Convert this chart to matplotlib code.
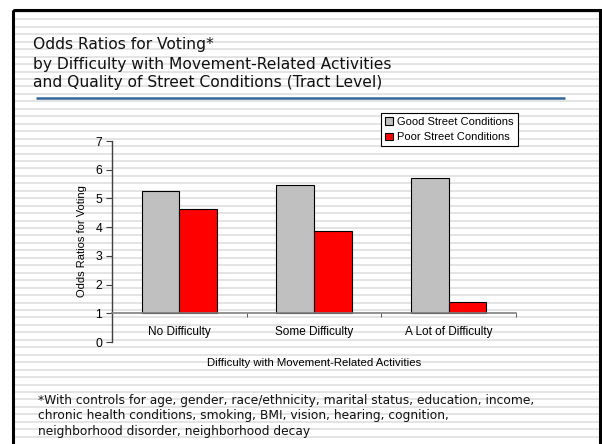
import matplotlib.pyplot as plt
import numpy as np
from matplotlib.patches import Rectangle

# data
categories = ['No Difficulty', 'Some Difficulty', 'A Lot of Difficulty']
good_street = [5.25, 5.48, 5.72]
poor_street = [4.63, 3.88, 1.38]
series_names = ['Good Street Conditions', 'Poor Street Conditions']

title_lines = ['Odds Ratios for Voting*',
               'by Difficulty with Movement-Related Activities',
               'and Quality of Street Conditions (Tract Level)']
footnote_lines = ['*With controls for age, gender, race/ethnicity, marital status, education, income,',
                  'chronic health conditions, smoking, BMI, vision, hearing, cognition,',
                  'neighborhood disorder, neighborhood decay']

W, H = 602, 444
fig = plt.figure(figsize=(W / 100, H / 100), dpi=100)
fig.patch.set_facecolor('white')

# slide background in pixel coordinates
bg = fig.add_axes([0, 0, 1, 1], zorder=-1)
bg.set_xlim(0, W)
bg.set_ylim(H, 0)
bg.axis('off')
for yy in np.arange(12, H, 7.45):
    bg.hlines(yy, 13, 599, color='#e2e2e2', lw=1.3, zorder=1)
bg.add_patch(Rectangle((13, 10), 587, 460, facecolor='none', edgecolor='black', lw=2.2, zorder=5))
bg.hlines(98.5, 36, 565, color='#336699', lw=1.8, zorder=3)

for i, t in enumerate(title_lines):
    bg.text(33, 45 + i * 19, t, fontsize=11.2, family='DejaVu Sans', va='center', ha='left',
            color='#111111')
for i, t in enumerate(footnote_lines):
    bg.text(38, 400 + i * 15.5, t, fontsize=8.85, family='DejaVu Sans', va='center', ha='left',
            color='#111111')

# chart
ax = fig.add_axes([112 / W, 1 - 342 / H, 404 / W, 201 / H])
ax.patch.set_alpha(0)
x = np.arange(len(categories))
w = 0.28
ax.bar(x - w / 2, np.array(good_street) - 1, w, bottom=1, color='#c0c0c0',
       edgecolor='black', lw=0.8, label=series_names[0], zorder=2)
ax.bar(x + w / 2, np.array(poor_street) - 1, w, bottom=1, color='#ff0000',
       edgecolor='black', lw=0.8, label=series_names[1], zorder=2)

ax.set_xlim(-0.5, 2.5)
ax.set_ylim(0, 7)
ax.spines['top'].set_visible(False)
ax.spines['right'].set_visible(False)
ax.spines['bottom'].set_position(('data', 1))
ax.spines['bottom'].set_color('#808080')
ax.spines['left'].set_color('#404040')
ax.spines['bottom'].set_linewidth(1.2)
ax.spines['left'].set_linewidth(1.0)

ax.set_xticks(x)
ax.set_xticklabels(categories, family='Liberation Sans', fontsize=8.5)
ax.set_xticks([0.5, 1.5, 2.5], minor=True)
ax.tick_params(axis='x', which='major', length=0, pad=9)
ax.tick_params(axis='x', which='minor', length=3, color='#404040', direction='out')
ax.set_yticks(range(0, 8))
ax.tick_params(axis='y', length=4, color='#404040', labelsize=8.8, pad=3)
for lab in ax.get_yticklabels():
    lab.set_family('Liberation Sans')

ax.set_ylabel('Odds Ratios for Voting', family='Liberation Sans', fontsize=8, labelpad=6)
fig.text(314 / W, 1 - 363 / H, 'Difficulty with Movement-Related Activities',
         family=['Liberation Sans Narrow', 'Liberation Sans'], fontsize=8.2, ha='center', va='center')

leg = ax.legend(loc='upper left', bbox_to_anchor=(381 / W, 1 - 147 / H, 137 / W, 34 / H),
                bbox_transform=fig.transFigure, mode='expand', fancybox=False,
                edgecolor='black', framealpha=1, borderaxespad=0, handlelength=0.7,
                handleheight=0.7, handletextpad=0.4, borderpad=0.35, labelspacing=0.5,
                prop={'family': 'Liberation Sans', 'size': 8})
leg.get_frame().set_linewidth(0.8)

fig.savefig('out.png', dpi=100)
